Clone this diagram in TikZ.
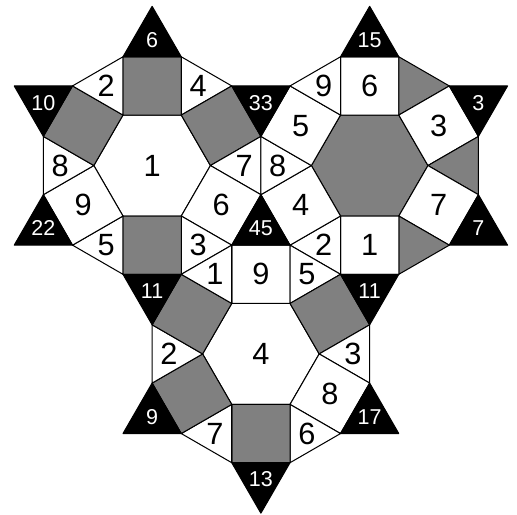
\documentclass[tikz,border=0pt]{standalone}
\usepackage{fontspec}
\setmainfont{Liberation Sans}
\usepackage{tikz}
\definecolor{tilegray}{gray}{0.5}
\tikzset{
  piece/.style={draw=black, line width=0.5pt, line join=round},
  num/.style={font=\fontsize{15}{15}\selectfont, inner sep=0pt},
  smallnum/.style={font=\fontsize{10.5}{10.5}\selectfont, text=white, inner sep=0pt},
}

\begin{document}
\begin{tikzpicture}
  \useasboundingbox (-2.61,-5.98) rectangle (6.26,2.84);
  % Hexagon centres
  \coordinate (h1) at (0,0);
  \coordinate (h2) at ({2+sqrt(3)},0);
  \coordinate (h3) at ({1+sqrt(3)/2},{-(2*sqrt(3)+3)/2});
  % Hexagons
  \filldraw[piece, fill=white, shift={(h1)}] (0:1) \foreach \k in {1,...,5}{ -- (\k*60:1)} -- cycle;
  \filldraw[piece, fill=tilegray, shift={(h2)}] (0:1) \foreach \k in {1,...,5}{ -- (\k*60:1)} -- cycle;
  \filldraw[piece, fill=white, shift={(h3)}] (0:1) \foreach \k in {1,...,5}{ -- (\k*60:1)} -- cycle;
  \node[num] (hex1) at (h1) {1};
  \node[num] (hex3) at (h3) {4};
  % Left flower: squares and corner triangles
  \foreach \i/\sqc/\sql/\trc/\trl in {0/tilegray//white/4, 1/tilegray//white/7,
      2/white/6/white/3, 3/tilegray//white/5, 4/white/9/white/8, 5/tilegray//white/2}{
    \pgfmathsetmacro\a{90-60*\i}
    \begin{scope}[shift={(h1)}]
      \filldraw[piece, fill=\sqc] (\a+30:1) -- (\a-30:1) -- ++(\a:1) -- ++(\a+90:1) -- cycle;
      \node[num] (h1s\i) at (\a:{sqrt(3)/2+0.5}) {\sql};
      \filldraw[piece, fill=\trc] (\a-30:1) -- ++(\a:1) -- ++(\a-120:1) -- cycle;
      \node[num] (h1t\i) at (\a-30:{1+1/sqrt(3)}) {\trl};
    \end{scope}
  }
  % Right flower
  \foreach \i/\sqc/\sql/\trc/\trl in {0/white/6/tilegray/, 1/white/3/tilegray/,
      2/white/7/tilegray/, 3/white/1/white/2, 4/white/4/white/8, 5/white/5/white/9}{
    \pgfmathsetmacro\a{90-60*\i}
    \begin{scope}[shift={(h2)}]
      \filldraw[piece, fill=\sqc] (\a+30:1) -- (\a-30:1) -- ++(\a:1) -- ++(\a+90:1) -- cycle;
      \node[num] (h2s\i) at (\a:{sqrt(3)/2+0.5}) {\sql};
      \filldraw[piece, fill=\trc] (\a-30:1) -- ++(\a:1) -- ++(\a-120:1) -- cycle;
      \node[num] (h2t\i) at (\a-30:{1+1/sqrt(3)}) {\trl};
    \end{scope}
  }
  % Bottom flower
  \foreach \i/\sqc/\sql/\trc/\trl in {0/white/9/white/5, 1/tilegray//white/3,
      2/white/8/white/6, 3/tilegray//white/7, 4/tilegray//white/2, 5/tilegray//white/1}{
    \pgfmathsetmacro\a{90-60*\i}
    \begin{scope}[shift={(h3)}]
      \filldraw[piece, fill=\sqc] (\a+30:1) -- (\a-30:1) -- ++(\a:1) -- ++(\a+90:1) -- cycle;
      \node[num] (h3s\i) at (\a:{sqrt(3)/2+0.5}) {\sql};
      \filldraw[piece, fill=\trc] (\a-30:1) -- ++(\a:1) -- ++(\a-120:1) -- cycle;
      \node[num] (h3t\i) at (\a-30:{1+1/sqrt(3)}) {\trl};
    \end{scope}
  }
  % Black triangles (shared ones drawn once)
  \foreach \h/\i/\bl in {h1/0/6, h1/1/33, h1/2/45, h1/3/11, h1/4/22, h1/5/10,
      h2/0/15, h2/1/3, h2/2/7, h2/3/11, h3/2/17, h3/3/13, h3/4/9}{
    \pgfmathsetmacro\a{90-60*\i}
    \begin{scope}[shift={(\h)}]
      \filldraw[piece, fill=black] (\a+30:1) ++(\a:1) -- ++(\a-90:1) -- (\a:{1+sqrt(3)}) -- cycle;
      \node[smallnum] (b\h\i) at (\a:{1+2/sqrt(3)}) {\bl};
    \end{scope}
  }
\end{tikzpicture}
\end{document}
